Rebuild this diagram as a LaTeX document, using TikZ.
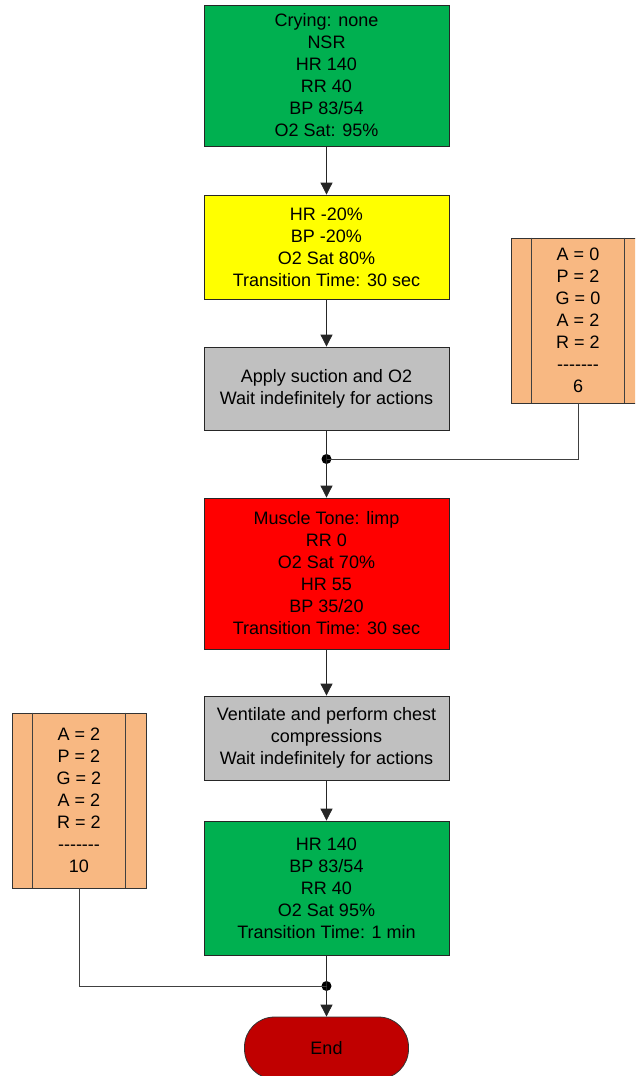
\documentclass[tikz,border=0pt]{standalone}
\usepackage{fontspec}
\setmainfont{Liberation Sans}
\usetikzlibrary{arrows.meta}

\definecolor{okgreen}{HTML}{00B050}
\definecolor{warnyellow}{HTML}{FFFF00}
\definecolor{actiongray}{HTML}{C0C0C0}
\definecolor{alarmred}{HTML}{FF0000}
\definecolor{scorepeach}{HTML}{F8B882}
\definecolor{enddarkred}{HTML}{C00000}

\newcommand\midx{326.5}
\newcommand\boxwidth{245pt}
\newcommand\barinset{21pt}
\newcommand\tallyline{-{}-{}-{}-{}-{}-{}-}

\tikzset{
  state/.style={draw=black!85, line width=0.8pt, minimum width=\boxwidth, inner sep=0pt, align=center,
    font=\fontsize{18}{22}\selectfont},
  score/.style={draw=black!80, line width=0.8pt, fill=scorepeach, minimum width=134pt, inner sep=0pt, align=center,
    font=\fontsize{18}{22}\selectfont},
  flow/.style={-{Triangle[length=12pt,width=12pt]}, line width=0.8pt, draw=black!85},
  link/.style={line width=0.8pt, draw=black!75},
  dot/.style={circle, fill=black, inner sep=0pt, minimum size=10pt},
}

\begin{document}
\begin{tikzpicture}[x=1pt,y=-1pt]
    \clip (0,0) rectangle (635,1076);

    \node[state,fill=okgreen,minimum height=141pt] (calm) at (\midx,75.5)
      {Crying: none\\NSR\\HR 140\\RR 40\\BP 83/54\\O2 Sat: 95\%};
    \node[state,fill=warnyellow,minimum height=104pt] (drop) at (\midx,247)
      {HR -20\%\\BP -20\%\\O2 Sat 80\%\\Transition Time: 30 sec};
    \node[state,fill=actiongray,minimum height=83pt] (suction) at (\midx,388.5)
      {Apply suction and O2\\Wait indefinitely for actions};
    \node[state,fill=alarmred,minimum height=151pt] (limp) at (\midx,573.5)
      {Muscle Tone: limp\\RR 0\\O2 Sat 70\%\\HR 55\\BP 35/20\\Transition Time: 30 sec};
    \node[state,fill=actiongray,minimum height=84pt] (ventilate) at (\midx,738)
      {Ventilate and perform chest\\compressions\\Wait indefinitely for actions};
    \node[state,fill=okgreen,minimum height=134pt] (recovered) at (\midx,888)
      {HR 140\\BP 83/54\\RR 40\\O2 Sat 95\%\\Transition Time: 1 min};
    \node[draw=black!80,line width=0.8pt,fill=enddarkred,rounded corners=30pt,minimum width=164pt,minimum height=62pt,
      font=\fontsize{18}{22}\selectfont] (end) at (\midx,1048) {End};

    \node[score,minimum height=165pt] (apgarA) at (578,320.5)
      {A = 0\\P = 2\\G = 0\\A = 2\\R = 2\\\tallyline\\6};
    \node[score,minimum height=175pt] (apgarB) at (79,800.5)
      {A = 2\\P = 2\\G = 2\\A = 2\\R = 2\\\tallyline\\10};
    \foreach \s in {apgarA,apgarB} {
      \draw[link] ([xshift=\barinset]\s.north west) -- ([xshift=\barinset]\s.south west);
      \draw[link] ([xshift=-\barinset]\s.north east) -- ([xshift=-\barinset]\s.south east);
    }

    \node[dot] (joinA) at (\midx,459) {};
    \node[dot] (joinB) at (\midx,986) {};

    \draw[flow] (calm) -- (drop);
    \draw[flow] (drop) -- (suction);
    \draw[flow] (suction) -- (limp);
    \draw[flow] (limp) -- (ventilate);
    \draw[flow] (ventilate) -- (recovered);
    \draw[flow] (recovered) -- (end);
    \draw[link] (apgarA.south) |- (joinA.center);
    \draw[link] (apgarB.south) |- (joinB.center);
\end{tikzpicture}
\end{document}
